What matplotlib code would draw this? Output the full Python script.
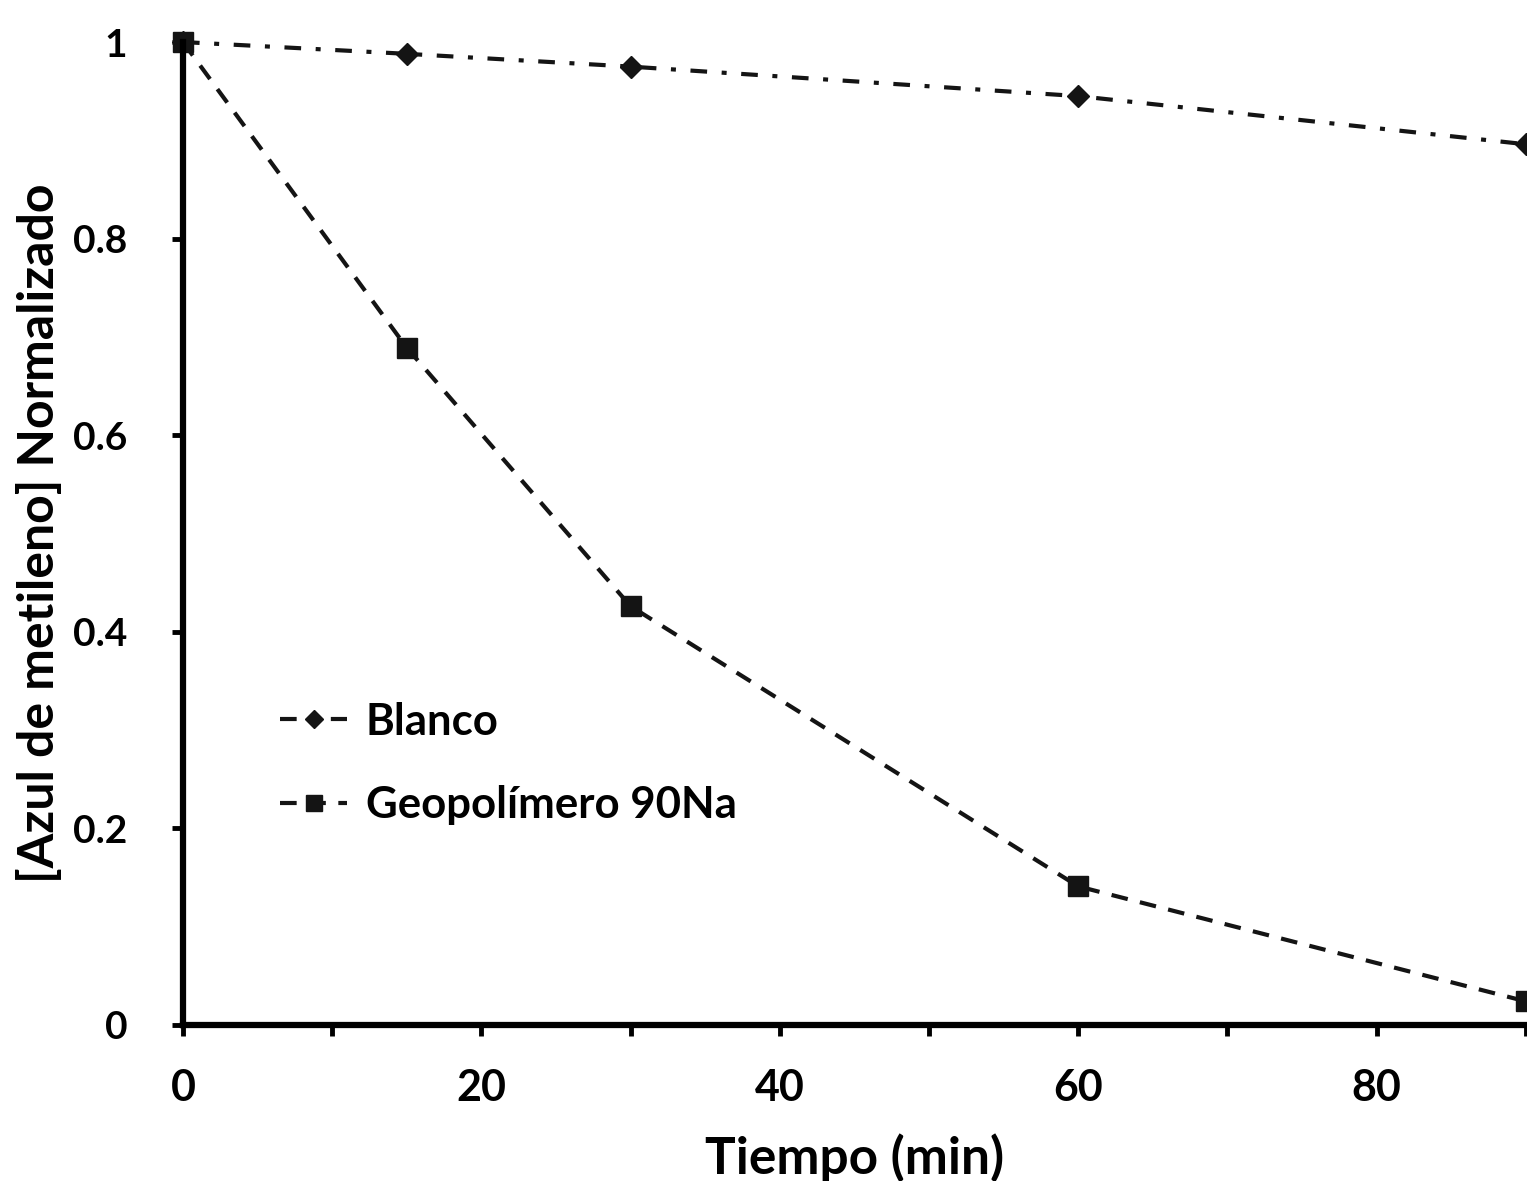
import matplotlib
matplotlib.use("Agg")
import matplotlib.pyplot as plt

# Degradation of methylene blue over time
tiempo = [0, 15, 30, 60, 90]
blanco = [1.0, 0.988, 0.975, 0.945, 0.896]
geopolimero = [1.0, 0.689, 0.426, 0.141, 0.024]

x_ticks = [0, 20, 40, 60, 80]
x_minor_ticks = [10, 30, 50, 70, 90]
y_ticks = [0, 0.2, 0.4, 0.6, 0.8, 1]
y_tick_labels = ["0", "0.2", "0.4", "0.6", "0.8", "1"]

plt.rcParams["font.family"] = ["Lato", "DejaVu Sans"]
plt.rcParams["font.weight"] = "bold"

fig = plt.figure(figsize=(15.27, 11.81), dpi=100)
ax = fig.add_axes([0.1198, 0.1321, 0.8795, 0.8323])

ink = "#141414"
ax.plot(tiempo, blanco, color=ink, lw=3, dashes=(4, 3.5, 1.2, 3.5),
        marker="D", markersize=11, clip_on=False, label="Blanco")
ax.plot(tiempo, geopolimero, color=ink, lw=3, dashes=(4, 3),
        marker="s", markersize=14, clip_on=False, label="Geopolímero 90Na")

ax.set_xlim(0, 90)
ax.set_ylim(0, 1)
ax.set_xticks(x_ticks)
ax.set_xticks(x_minor_ticks, minor=True)
ax.set_yticks(y_ticks)
ax.set_yticklabels(y_tick_labels)

for side in ("top", "right"):
    ax.spines[side].set_visible(False)
for side in ("left", "bottom"):
    ax.spines[side].set_linewidth(4.5)
    ax.spines[side].set_color("black")

ax.tick_params(axis="both", which="major", direction="out", length=8,
               width=3.5)
ax.tick_params(axis="x", which="major", pad=23, labelsize=31)
ax.tick_params(axis="y", which="major", pad=32, labelsize=28)
ax.tick_params(axis="x", which="minor", direction="out", length=8, width=3.5)
for lbl in ax.get_xticklabels() + ax.get_yticklabels():
    lbl.set_fontweight("bold")

ax.set_xlabel("Tiempo (min)", fontsize=37, fontweight="bold", labelpad=18)
ax.set_ylabel("[Azul de metileno] Normalizado", fontsize=36,
              fontweight="bold", labelpad=8)

leg = ax.legend(loc="upper left", bbox_to_anchor=(0.072, 0.329),
                frameon=False, fontsize=31.5, handlelength=1.55,
                handletextpad=0.42, labelspacing=1.0, borderpad=0,
                borderaxespad=0, markerscale=0.8)
for t in leg.get_texts():
    t.set_fontweight("bold")

fig.savefig("out.png", dpi=100, facecolor="white")
